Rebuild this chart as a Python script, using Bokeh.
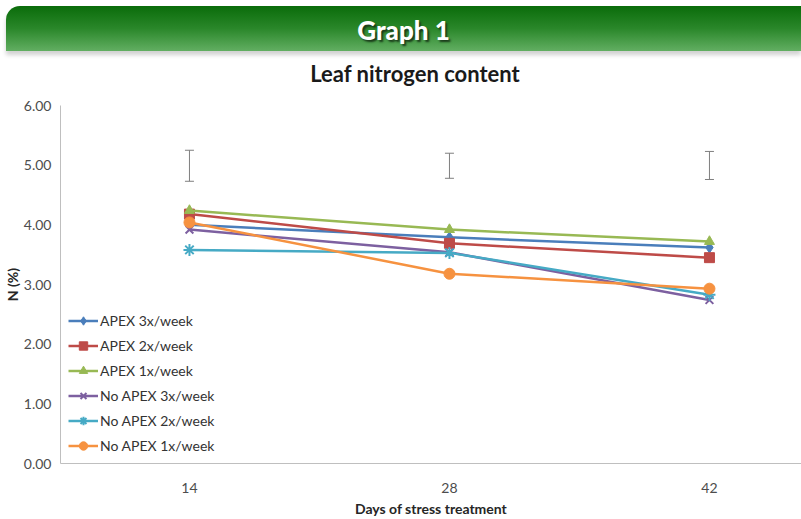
from bokeh.plotting import figure
from bokeh.models import (Range1d, FixedTicker, NumeralTickFormatter, Div, Whisker,
                          ColumnDataSource, TeeHead, Legend)
from bokeh.layouts import column
from bokeh.embed import file_html
from bokeh.resources import INLINE

# ---- data ----
days = ["14", "28", "42"]
x_pos = [0, 1, 2]
series_names = ["APEX 3x/week", "APEX 2x/week", "APEX 1x/week",
                "No APEX 3x/week", "No APEX 2x/week", "No APEX 1x/week"]
apex_3x = [4.00, 3.79, 3.62]
apex_2x = [4.18, 3.69, 3.45]
apex_1x = [4.24, 3.92, 3.72]
no_apex_3x = [3.92, 3.54, 2.74]
no_apex_2x = [3.58, 3.53, 2.83]
no_apex_1x = [4.04, 3.18, 2.93]
err_low = [4.73, 4.78, 4.76]
err_high = [5.25, 5.20, 5.23]
y_ticks = [0, 1, 2, 3, 4, 5, 6]

colors = ["#4A7EBB", "#BE4B48", "#98B954", "#7D60A0", "#46AAC5", "#F69240"]
markers = ["diamond", "square", "triangle", "x", "asterisk", "circle"]
sizes = [11, 10, 10, 11, 12, 11]
values = [apex_3x, apex_2x, apex_1x, no_apex_3x, no_apex_2x, no_apex_1x]

FONT = "Lato"

banner = Div(
    text='<span style="font-family:Lato, sans-serif;font-weight:900;font-size:26px;color:#ffffff;'
         'text-shadow:2px 2px 2px #1a3a1a;">Graph 1</span>',
    width=795, height=45, margin=(6, 0, 0, 6),
    styles={"background": "linear-gradient(180deg, #0a6c0a 0%, #2a872a 50%, #62ae62 100%)",
            "border-top-left-radius": "14px",
            "text-align": "center", "line-height": "48px",
            "box-shadow": "0px 4px 4px rgba(0,0,0,0.18)"},
)

title_div = Div(
    text='<span style="font-family:Lato, sans-serif;font-weight:700;font-size:22px;color:#1a1a1a;">'
         'Leaf nitrogen content</span>',
    width=801, height=39, margin=0,
    styles={"text-align": "center", "line-height": "46px", "padding-left": "29px",
            "box-sizing": "border-box"},
)

p = figure(width=801, height=429, output_backend="svg", toolbar_location=None, margin=0,
           x_range=Range1d(-0.496, 2.354), y_range=Range1d(0, 6),
           min_border_left=58, min_border_right=0, min_border_top=15, min_border_bottom=56)
p.outline_line_color = None
p.xgrid.visible = False
p.ygrid.visible = False
p.background_fill_color = "white"
p.border_fill_color = "white"

for ax in (p.xaxis[0], p.yaxis[0]):
    ax.axis_line_color = "#BFBFBF"
    ax.major_tick_line_color = None
    ax.minor_tick_line_color = None
    ax.major_tick_out = 0
    ax.major_tick_in = 0
    ax.minor_tick_out = 0
    ax.major_label_text_font = FONT
    ax.major_label_text_font_size = "14px"
    ax.major_label_text_color = "#4d4d4d"
    ax.axis_label_text_font = FONT
    ax.axis_label_text_font_style = "bold"
    ax.axis_label_text_font_size = "14px"
    ax.axis_label_text_color = "#262626"

p.xaxis.ticker = FixedTicker(ticks=x_pos)
p.xaxis.major_label_overrides = {x: d for x, d in zip(x_pos, days)}
p.xaxis.axis_label = "Days of stress treatment"
p.xaxis.major_label_standoff = 19
p.xaxis.axis_label_standoff = 4

p.yaxis.ticker = FixedTicker(ticks=y_ticks)
p.yaxis.formatter = NumeralTickFormatter(format="0.00")
p.yaxis.axis_label = "N (%)"
p.yaxis.major_label_standoff = 9
p.yaxis.axis_label_standoff = 0

# error bars
esrc = ColumnDataSource(dict(x=x_pos, lo=err_low, hi=err_high))
wh = Whisker(base="x", lower="lo", upper="hi", source=esrc, line_color="#7F7F7F", line_width=1,
             upper_head=TeeHead(size=9, line_color="#7F7F7F", line_width=1),
             lower_head=TeeHead(size=9, line_color="#7F7F7F", line_width=1))
p.add_layout(wh)

legend_items = []
for name, vals, c, m, s in zip(series_names, values, colors, markers, sizes):
    r1 = p.line(x_pos, vals, line_color=c, line_width=2.5)
    r2 = p.scatter(x_pos, vals, marker=m, size=s, fill_color=c, line_color=c,
                   line_width=2 if m in ("x", "asterisk") else 1)
    legend_items.append((name, [r1, r2]))

legend = Legend(items=legend_items, location=(8, 7))
legend.background_fill_alpha = 0
legend.border_line_color = None
legend.label_text_font = FONT
legend.label_text_font_size = "14px"
legend.label_text_color = "#333333"
legend.glyph_width = 30
legend.glyph_height = 21
legend.label_height = 21
legend.spacing = 4
legend.padding = 0
legend.margin = 0
legend.label_standoff = 2
p.add_layout(legend, "center")

layout = column(banner, title_div, p, spacing=0, margin=0)
open("out.html", "w").write(file_html(layout, INLINE))
